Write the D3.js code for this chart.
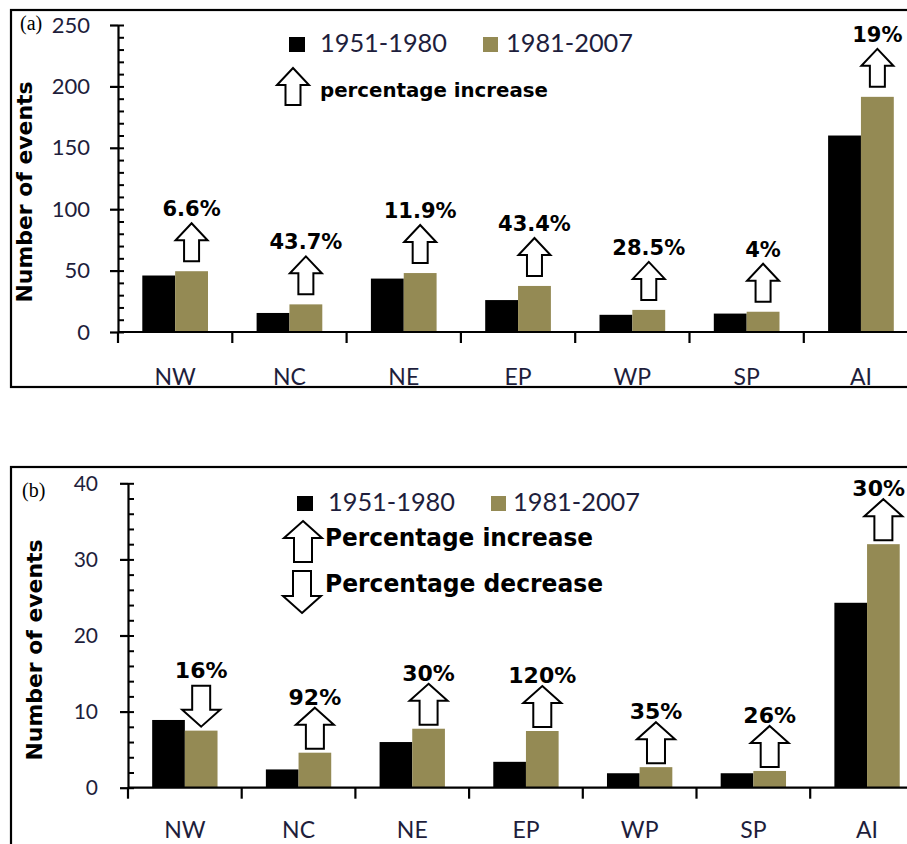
<!DOCTYPE html>
<html><head><meta charset="utf-8">
<script src="https://cdn.jsdelivr.net/npm/d3@7"></script>
<style>html,body{margin:0;padding:0;background:#fff;} svg{display:block;}</style>
</head><body><svg id="c" width="907" height="844"></svg>
<script>
// ---------- data ----------
const categories = ["NW", "NC", "NE", "EP", "WP", "SP", "AI"];
const seriesNames = ["1951-1980", "1981-2007"];

const eventsA_1951_1980 = [46, 15.5, 43.5, 26, 14, 15, 160];
const eventsA_1981_2007 = [49.5, 22.5, 48, 37.5, 18, 16.5, 191.5];
const changeA = ["6.6%", "43.7%", "11.9%", "43.4%", "28.5%", "4%", "19%"];
const directionA = ["up", "up", "up", "up", "up", "up", "up"];
const yTicksA = [0, 50, 100, 150, 200, 250];

const eventsB_1951_1980 = [8.9, 2.4, 6.0, 3.4, 1.9, 1.9, 24.3];
const eventsB_1981_2007 = [7.5, 4.6, 7.75, 7.45, 2.7, 2.2, 32.0];
const changeB = ["16%", "92%", "30%", "120%", "35%", "26%", "30%"];
const directionB = ["down", "up", "up", "up", "up", "up", "up"];
const yTicksB = [0, 10, 20, 30, 40];

// ---------- styles ----------
const colors = ["#000000", "#948a54"];
const tickColor = "#1e1e3c";
const svg = d3.select("#c");
svg.append("rect").attr("width", 907).attr("height", 844).attr("fill", "#fff");

function arrowPath(cx, top, dims, dir) {
  const {hw, sw, hh, h} = dims;
  let pts;
  if (dir === "up") {
    pts = [[cx, top], [cx + hw / 2, top + hh], [cx + sw / 2, top + hh], [cx + sw / 2, top + h],
           [cx - sw / 2, top + h], [cx - sw / 2, top + hh], [cx - hw / 2, top + hh]];
  } else {
    const b = top + h;
    pts = [[cx, b], [cx + hw / 2, b - hh], [cx + sw / 2, b - hh], [cx + sw / 2, top],
           [cx - sw / 2, top], [cx - sw / 2, b - hh], [cx - hw / 2, b - hh]];
  }
  return "M" + pts.map(p => p.join(",")).join("L") + "Z";
}

function drawArrow(g, cx, top, dims, dir) {
  g.append("path").attr("d", arrowPath(cx, top, dims, dir))
    .attr("fill", "#fff").attr("stroke", "#000").attr("stroke-width", 2)
    .attr("stroke-linejoin", "miter");
}

function panel(cfg) {
  const g = svg.append("g");
  const y = d3.scaleLinear().domain([0, cfg.yMax]).range([cfg.y0, cfg.yTop]);
  const x = d3.scaleBand().domain(categories).range([cfg.axisX, cfg.axisX + categories.length * cfg.step]);
  const inner = d3.scaleBand().domain(seriesNames).range([0, x.bandwidth()]).paddingInner(0).paddingOuter(0.74);

  // bars
  const series = [cfg.early, cfg.late];
  series.forEach((vals, si) => {
    g.append("g").selectAll("rect").data(categories).join("rect")
      .attr("x", c => x(c) + inner(seriesNames[si]))
      .attr("width", inner.bandwidth())
      .attr("y", (c, i) => y(vals[i]))
      .attr("height", (c, i) => y(0) - y(vals[i]))
      .attr("fill", colors[si]);
  });

  // y axis (left: major ticks + labels)
  const ax = g.append("g").attr("transform", `translate(${cfg.axisX},0)`)
    .call(d3.axisLeft(y).tickValues(cfg.ticks).tickSize(8).tickSizeOuter(0).tickPadding(cfg.tickPad));
  ax.select(".domain").attr("stroke", "#000").attr("stroke-width", 2.2);
  ax.selectAll(".tick line").attr("stroke", "#000").attr("stroke-width", 2.2);
  ax.selectAll(".tick text").attr("font-family", "Lato, 'Open Sans', sans-serif")
    .attr("font-size", cfg.tickSize).attr("fill", tickColor);
  // right minor ticks
  const minors = d3.range(0, cfg.yMax + 1e-9, cfg.minorStep);
  const axr = g.append("g").attr("transform", `translate(${cfg.axisX},0)`)
    .call(d3.axisRight(y).tickValues(minors).tickSize(6).tickSizeOuter(0).tickFormat(""));
  axr.select(".domain").remove();
  axr.selectAll(".tick line").attr("stroke", "#000").attr("stroke-width", 2);

  // x axis
  const xr = x.range();
  g.append("line").attr("x1", xr[0]).attr("x2", xr[1]).attr("y1", y(0)).attr("y2", y(0))
    .attr("stroke", "#000").attr("stroke-width", 2.2);
  const bounds = categories.map(c => x(c)).concat([xr[1]]);
  g.append("g").selectAll("line").data(bounds).join("line")
    .attr("x1", d => d).attr("x2", d => d).attr("y1", y(0)).attr("y2", y(0) + 11)
    .attr("stroke", "#000").attr("stroke-width", 2.2);
  g.append("g").selectAll("text").data(categories).join("text")
    .attr("x", c => x(c) + x.bandwidth() / 2).attr("y", y(0) + cfg.catOff)
    .attr("text-anchor", "middle").attr("font-family", "Lato, 'Open Sans', sans-serif")
    .attr("font-size", cfg.catSize).attr("fill", tickColor).text(c => c);

  // annotations: arrows + percentage labels over the 1981-2007 bars
  categories.forEach((c, i) => {
    const cx = x(c) + inner(seriesNames[1]) + inner.bandwidth() / 2;
    const bottom = y(cfg.late[i]) - cfg.gap;
    const top = bottom - cfg.arrow.h;
    drawArrow(g, cx, top, cfg.arrow, cfg.dirs[i]);
    const t = g.append("text").attr("x", cx).attr("y", top - (cfg.dirs[i] === "up" ? cfg.labOff : cfg.labOff + 5))
      .attr("text-anchor", "middle").attr("font-family", "'DejaVu Sans', sans-serif")
      .attr("font-weight", "bold").attr("font-size", cfg.labSize).attr("fill", "#000")
      .text(cfg.changes[i]);
    const bb = t.node().getBBox();
    if (bb.x + bb.width > 905) t.attr("x", cx - (bb.x + bb.width - 905));
  });

  // y title
  g.append("text").attr("transform", `translate(${cfg.titleX},${cfg.titleY}) rotate(-90)`)
    .attr("text-anchor", "middle").attr("font-family", "'DejaVu Sans', sans-serif")
    .attr("font-weight", "bold").attr("font-size", 21).attr("fill", "#000")
    .attr("textLength", 221).attr("lengthAdjust", "spacingAndGlyphs")
    .text("Number of events");

  // legend
  const L = cfg.legend;
  g.append("rect").attr("x", L.sq1x).attr("y", L.sqY).attr("width", 16).attr("height", 15).attr("fill", colors[0]);
  g.append("text").attr("x", L.t1x).attr("y", L.base).attr("font-family", "Lato, 'Open Sans', sans-serif")
    .attr("font-size", 25).attr("fill", tickColor).attr("textLength", 127).attr("lengthAdjust", "spacingAndGlyphs")
    .text(seriesNames[0]);
  g.append("rect").attr("x", L.sq2x).attr("y", L.sqY).attr("width", 15).attr("height", 15).attr("fill", colors[1]);
  g.append("text").attr("x", L.t2x).attr("y", L.base).attr("font-family", "Lato, 'Open Sans', sans-serif")
    .attr("font-size", 25).attr("fill", tickColor).attr("textLength", 127).attr("lengthAdjust", "spacingAndGlyphs")
    .text(seriesNames[1]);
  L.rows.forEach(r => {
    drawArrow(g, r.ax, r.aTop, r.dims, r.dir);
    g.append("text").attr("x", r.tx).attr("y", r.base).attr("font-family", "'DejaVu Sans', sans-serif")
      .attr("font-weight", "bold").attr("font-size", r.size).attr("fill", "#000")
      .attr("textLength", r.len).attr("lengthAdjust", "spacingAndGlyphs").text(r.text);
  });

  // panel label and frame
  g.append("text").attr("x", cfg.tagX).attr("y", cfg.tagY).attr("font-family", "'Liberation Serif', 'Times New Roman', serif")
    .attr("font-size", 20).attr("fill", "#000").text(cfg.tag);
  g.append("rect").attr("x", 11).attr("y", cfg.frameTop).attr("width", 930).attr("height", cfg.frameH)
    .attr("fill", "none").attr("stroke", "#000").attr("stroke-width", 2.2);
}

panel({
  early: eventsA_1951_1980, late: eventsA_1981_2007, changes: changeA, dirs: directionA, ticks: yTicksA,
  yMax: 250, y0: 332, yTop: 25, axisX: 118, step: 114.3, minorStep: 10,
  tickPad: 20, tickSize: 22, catSize: 23, catOff: 53,
  arrow: {hw: 32, sw: 15, hh: 17, h: 38}, gap: 10, labOff: 7, labSize: 21,
  titleX: 32, titleY: 192,
  legend: {sq1x: 289, sq2x: 483, sqY: 37, t1x: 320, t2x: 506, base: 52,
    rows: [{ax: 293, aTop: 68, dims: {hw: 32, sw: 15, hh: 17, h: 37}, dir: "up", tx: 320, base: 97, size: 20, len: 228, text: "percentage increase"}]},
  tag: "(a)", tagX: 20, tagY: 30, frameTop: 10, frameH: 377
});

panel({
  early: eventsB_1951_1980, late: eventsB_1981_2007, changes: changeB, dirs: directionB, ticks: yTicksB,
  yMax: 40, y0: 787.7, yTop: 483.3, axisX: 128, step: 113.7, minorStep: 2,
  tickPad: 22, tickSize: 21, catSize: 23, catOff: 50,
  arrow: {hw: 38, sw: 18, hh: 17, h: 41}, gap: 4, labOff: 3, labSize: 22,
  titleX: 42, titleY: 650,
  legend: {sq1x: 297, sq2x: 491, sqY: 496, t1x: 328, t2x: 513, base: 511,
    rows: [{ax: 303, aTop: 521, dims: {hw: 38, sw: 18, hh: 17, h: 41}, dir: "up", tx: 325, base: 546, size: 24, len: 268, text: "Percentage increase"},
           {ax: 302, aTop: 571, dims: {hw: 38, sw: 18, hh: 17, h: 42}, dir: "down", tx: 325, base: 592, size: 24, len: 278, text: "Percentage decrease"}]},
  tag: "(b)", tagX: 22, tagY: 497, frameTop: 467, frameH: 420
});
</script>
</body></html>
